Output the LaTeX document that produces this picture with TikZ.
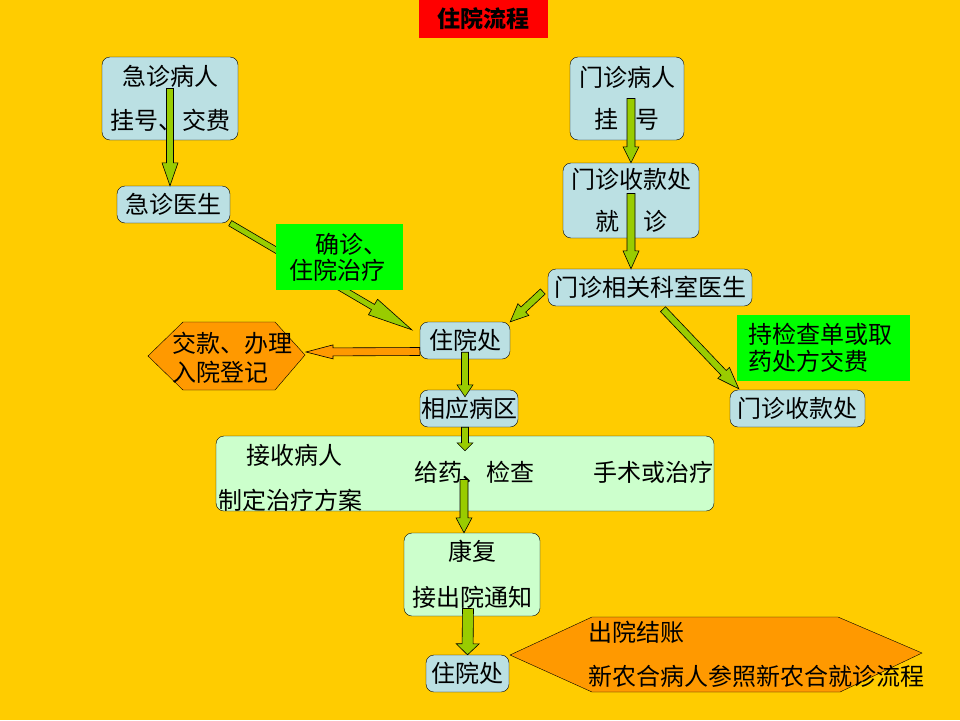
\documentclass[tikz,border=0pt]{standalone}
\usepackage{fontspec}
\setmainfont{Noto Sans CJK SC}
\usepackage{tikz}
\usetikzlibrary{positioning,calc}

\definecolor{bgyellow}{HTML}{FFCC00}
\definecolor{boxblue}{HTML}{BBE0E3}
\definecolor{boxgreen}{HTML}{CCFFCC}
\definecolor{notegreen}{HTML}{00FF00}
\definecolor{hexorange}{HTML}{FF9900}
\definecolor{arrowgreen}{HTML}{99CC00}

% 块状箭头: [样式]{起点}{终点}{箭身半宽}{箭头半宽}{箭头长}
\newcommand{\blockarrow}[6][]{%
  \coordinate (ba-a) at (#2);
  \coordinate (ba-b) at (#3);
  \coordinate (ba-h) at ($(ba-b)!#6!(ba-a)$);
  \draw[#1] ($(ba-a)!#4!90:(ba-b)$) -- ($(ba-h)!#4!90:(ba-b)$) -- ($(ba-h)!#5!90:(ba-b)$)
    -- (ba-b) -- ($(ba-h)!#5!-90:(ba-b)$) -- ($(ba-h)!#4!-90:(ba-b)$)
    -- ($(ba-a)!#4!-90:(ba-b)$) -- cycle;}

\begin{document}
\begin{tikzpicture}[
    x=1pt, y=-1pt,
    box/.style={rectangle, draw, fill=boxblue, rounded corners=8pt, inner sep=0pt, align=center, font=\fontsize{24}{28}\selectfont},
    lightbox/.style={box, fill=boxgreen},
    note/.style={rectangle, fill=notegreen, inner sep=0pt, align=center},
    hexagon/.style={draw, fill=hexorange},
    txt/.style={inner sep=0pt, font=\fontsize{24}{28}\selectfont},
    garrow/.style={draw=black, fill=arrowgreen, line width=0.6pt},
    oarrow/.style={garrow, fill=hexorange}
]
\useasboundingbox (0,0) rectangle (960,720);
\fill[bgyellow] (0,0) rectangle (960,720);

% 标题
\node[rectangle, fill=red, minimum width=129pt, minimum height=38pt, inner sep=0pt, font=\fontsize{23}{28}\selectfont\bfseries] (title) at (483.5,19) {住院流程};

% 急诊
\node[box, minimum width=136pt, minimum height=83pt, font=\fontsize{24}{44}\selectfont] (erpatient) at (170,98.5) {急诊病人\\挂号、交费};
\node[box, minimum width=113pt, minimum height=37pt] (erdoctor) at (173.5,204.5) {急诊医生};

% 门诊
\node[box, minimum width=114pt, minimum height=83pt, font=\fontsize{24}{42}\selectfont] (oppatient) at (627,98.5) {门诊病人\\挂\hspace{18pt}号};
\node[box, minimum width=136pt, minimum height=75pt, font=\fontsize{24}{42}\selectfont] (opcashier) at (631,200.5) {门诊收款处\\就\quad 诊};
\node[box, minimum width=204pt, minimum height=37pt] (opdoctor) at (650,287.5) {门诊相关科室医生};
\node[box, minimum width=135pt, minimum height=37pt] (opcashier2) at (797.5,408.5) {门诊收款处};

% 住院
\node[box, minimum width=90pt, minimum height=37pt] (admit) at (465,340.5) {住院处};
\node[box, minimum width=98pt, minimum height=37pt] (ward) at (469,408.5) {相应病区};
\node[lightbox, minimum width=498pt, minimum height=75pt] (treat) at (465,473.5) {};
\node[txt] (receive) at (294,455) {接收病人};
\node[txt, anchor=west] (plan) at (218,500) {制定治疗方案};
\node[txt] (medicine) at (474,472) {给药、检查};
\node[txt, anchor=east] (surgery) at (714,472) {手术或治疗};
\node[lightbox, minimum width=136pt, minimum height=83pt, font=\fontsize{24}{46}\selectfont] (recover) at (472,574.5) {康复\\接出院通知};
\node[box, minimum width=83pt, minimum height=37pt] (discharge) at (467.5,673.5) {住院处};

% 交款、出院
\draw[hexagon] (148,356) -- (183,322) -- (275,322) -- (305,355) -- (275,390) -- (183,390) -- cycle;
\node[txt, align=left, anchor=west, font=\fontsize{24}{29}\selectfont] (deposit) at (172,357.5) {交款、办理\\入院登记};
\coordinate (deptip) at (306,352);
\draw[hexagon] (510,655) -- (592,617) -- (838,617) -- (922,653) -- (840,692) -- (592,692) -- cycle;
\node[txt, align=left, anchor=west, font=\fontsize{24}{44}\selectfont] (checkout) at (588,654) {出院结账\\新农合病人参照新农合就诊流程};

% 连接线
\blockarrow[garrow]{$(erpatient.center)+(0,-10)$}{erpatient.center |- erdoctor.north}{3.5pt}{8pt}{23pt}
\blockarrow[garrow]{opcashier.center |- oppatient.center}{opcashier.north}{4pt}{8pt}{16pt}
\blockarrow[garrow]{$(opcashier.center)+(0,-7)$}{opcashier.center |- opdoctor.north}{4pt}{8pt}{18pt}
\blockarrow[garrow]{erdoctor.south east}{$(admit.north west)+(-8,8)$}{3pt}{9pt}{45pt}
\blockarrow[garrow]{$(opdoctor.west)+(-5,4)$}{admit.north east}{3.5pt}{8pt}{18pt}
\blockarrow[garrow]{$(opdoctor.south)+(13,3)$}{$(opcashier2.north west)+(9,-1)$}{3.5pt}{8pt}{22pt}
\blockarrow[oarrow]{$(admit.west)+(0,11)$}{deptip}{4pt}{7pt}{27pt}
\blockarrow[garrow]{$(admit.south)+(0,-7)$}{$(admit.south |- ward.north)+(0,7)$}{3.5pt}{8pt}{12pt}
\blockarrow[garrow]{admit.south |- ward.south}{$(admit.south |- treat.north)+(0,15)$}{3.5pt}{8pt}{8pt}
\blockarrow[garrow]{$(treat.center)+(-1,6)$}{$(recover.north)+(-8,0)$}{4pt}{8pt}{15pt}
\blockarrow[garrow]{$(recover.center)+(-4,34)$}{discharge.north}{5.5pt}{11.5pt}{11pt}

% 说明
\node[note, minimum width=127pt, minimum height=66pt, text width=100pt, align=left, font=\fontsize{24}{26}\selectfont] (confirm) at (339.5,257) {\hspace*{26pt}确诊、\\住院治疗};
\node[note, minimum width=173pt, minimum height=66pt, text width=150pt, align=left, font=\fontsize{24}{27}\selectfont] (paynote) at (823.5,348) {持检查单或取\\药处方交费};
\end{tikzpicture}
\end{document}
